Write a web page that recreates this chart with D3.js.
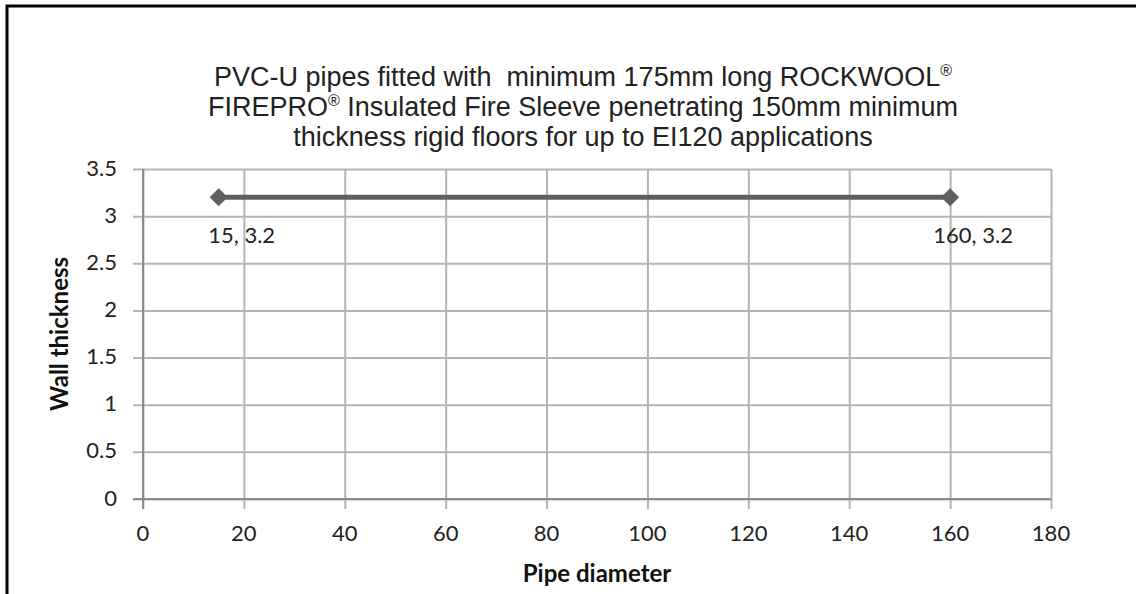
<!DOCTYPE html>
<html>
<head>
<meta charset="utf-8">
<script src="https://cdn.jsdelivr.net/npm/d3@7"></script>
<style>
  html, body { margin: 0; padding: 0; background: #fff; }
  svg { display: block; }
  .title { white-space: pre; }
</style>
</head>
<body>
<svg id="chart" width="1136" height="594"></svg>
<script>
// ---- data ----
// each title line as segments: [text, isSuperscript]
const titleLines = [
  [["PVC-U pipes fitted with  minimum 175mm long ROCKWOOL", false], ["\u00AE", true]],
  [["FIREPRO", false], ["\u00AE", true], [" Insulated Fire Sleeve penetrating 150mm minimum", false]],
  [["thickness rigid floors for up to EI120 applications", false]]
];
const pipeDiameter = [15, 160];
const wallThickness = [3.2, 3.2];
const pointLabels = ["15, 3.2", "160, 3.2"];
const xTicks = [0, 20, 40, 60, 80, 100, 120, 140, 160, 180];
const yTicks = [0, 0.5, 1, 1.5, 2, 2.5, 3, 3.5];
const xTitle = "Pipe diameter";
const yTitle = "Wall thickness";

// ---- layout ----
const W = 1136, H = 594;
const plot = { left: 143, right: 1051, top: 169, bottom: 499 };
const svg = d3.select("#chart");

// outer frame (top and left visible)
svg.append("path")
  .attr("d", `M7,${H} L7,6 L${W},6`)
  .attr("fill", "none").attr("stroke", "#000").attr("stroke-width", 3);

const x = d3.scaleLinear().domain([0, 180]).range([plot.left, plot.right]);
const y = d3.scaleLinear().domain([0, 3.5]).range([plot.bottom, plot.top]);

const gridColor = "#b4b4b4";
const tickFont = "Lato, 'Open Sans', sans-serif";

// vertical gridlines + x ticks
const gx = svg.append("g")
  .attr("transform", `translate(0,${plot.bottom})`)
  .call(d3.axisBottom(x).tickValues(xTicks).tickSizeOuter(0).tickFormat(""));
gx.select(".domain").remove();
gx.selectAll(".tick line").attr("stroke", gridColor).attr("stroke-width", 2)
  .attr("y1", -(plot.bottom - plot.top)).attr("y2", 10);

// horizontal gridlines + y ticks
const gy = svg.append("g")
  .attr("transform", `translate(${plot.left},0)`)
  .call(d3.axisLeft(y).tickValues(yTicks).tickFormat(""));
gy.select(".domain").remove();
gy.selectAll(".tick line").attr("stroke", gridColor).attr("stroke-width", 2)
  .attr("x1", -10).attr("x2", plot.right - plot.left);

// axis lines
svg.append("line").attr("x1", plot.left - 10).attr("x2", plot.right).attr("y1", y(0)).attr("y2", y(0))
  .attr("stroke", "#8c8c8c").attr("stroke-width", 2);
svg.append("line").attr("x1", x(0)).attr("x2", x(0)).attr("y1", plot.top).attr("y2", plot.bottom + 10)
  .attr("stroke", "#8c8c8c").attr("stroke-width", 2);

// tick labels
svg.append("g").selectAll("text").data(xTicks).join("text")
  .attr("x", d => x(d)).attr("y", plot.bottom + 36)
  .attr("text-anchor", "middle").attr("dominant-baseline", "middle")
  .attr("font-family", tickFont).attr("font-size", 22).attr("fill", "#222")
  .text(d => d);
svg.append("g").selectAll("text").data(yTicks).join("text")
  .attr("x", plot.left - 26).attr("y", d => y(d) + 1)
  .attr("text-anchor", "end").attr("dominant-baseline", "middle")
  .attr("font-family", tickFont).attr("font-size", 22).attr("fill", "#222")
  .text(d => d);

// axis titles
svg.append("text")
  .attr("x", (plot.left + plot.right) / 2).attr("y", 576)
  .attr("text-anchor", "middle").attr("dominant-baseline", "middle")
  .attr("font-family", tickFont).attr("font-weight", "bold").attr("font-size", 24).attr("fill", "#111")
  .text(xTitle);
svg.append("text")
  .attr("transform", `translate(62,${(plot.top + plot.bottom) / 2}) rotate(-90)`)
  .attr("text-anchor", "middle").attr("dominant-baseline", "middle")
  .attr("font-family", tickFont).attr("font-weight", "bold").attr("font-size", 24).attr("fill", "#111")
  .text(yTitle);

// title
const tl = svg.append("g").selectAll("text").data(titleLines).join("text")
  .attr("class", "title")
  .attr("x", 583).attr("y", (d, i) => 86 + i * 30)
  .attr("text-anchor", "middle")
  .attr("font-family", "'Liberation Sans', Arial, sans-serif").attr("font-size", 27).attr("fill", "#222");
tl.selectAll("tspan").data(d => d).join("tspan")
  .attr("font-size", d => d[1] ? 16 : 27)
  .attr("dy", (d, i, n) => {
    const prevSup = i > 0 && d3.select(n[i - 1]).datum()[1];
    if (d[1]) return -10;
    return prevSup ? 10 : 0;
  })
  .text(d => d[0]);

// series
const pts = pipeDiameter.map((d, i) => ({ x: d, y: wallThickness[i], label: pointLabels[i] }));
svg.append("path").datum(pts)
  .attr("d", d3.line().x(d => x(d.x)).y(d => y(d.y)))
  .attr("fill", "none").attr("stroke", "#5f5f5f").attr("stroke-width", 5);
svg.append("g").selectAll("path").data(pts).join("path")
  .attr("transform", d => `translate(${x(d.x)},${y(d.y)})`)
  .attr("d", "M0,-9 L9,0 L0,9 L-9,0 Z")
  .attr("fill", "#5f5f5f");
svg.append("g").selectAll("text").data(pts).join("text")
  .attr("x", d => x(d.x) + 23).attr("y", d => y(d.y) + 40)
  .attr("text-anchor", "middle").attr("dominant-baseline", "middle")
  .attr("font-family", tickFont).attr("font-size", 22).attr("fill", "#222")
  .text(d => d.label);
</script>
</body>
</html>
